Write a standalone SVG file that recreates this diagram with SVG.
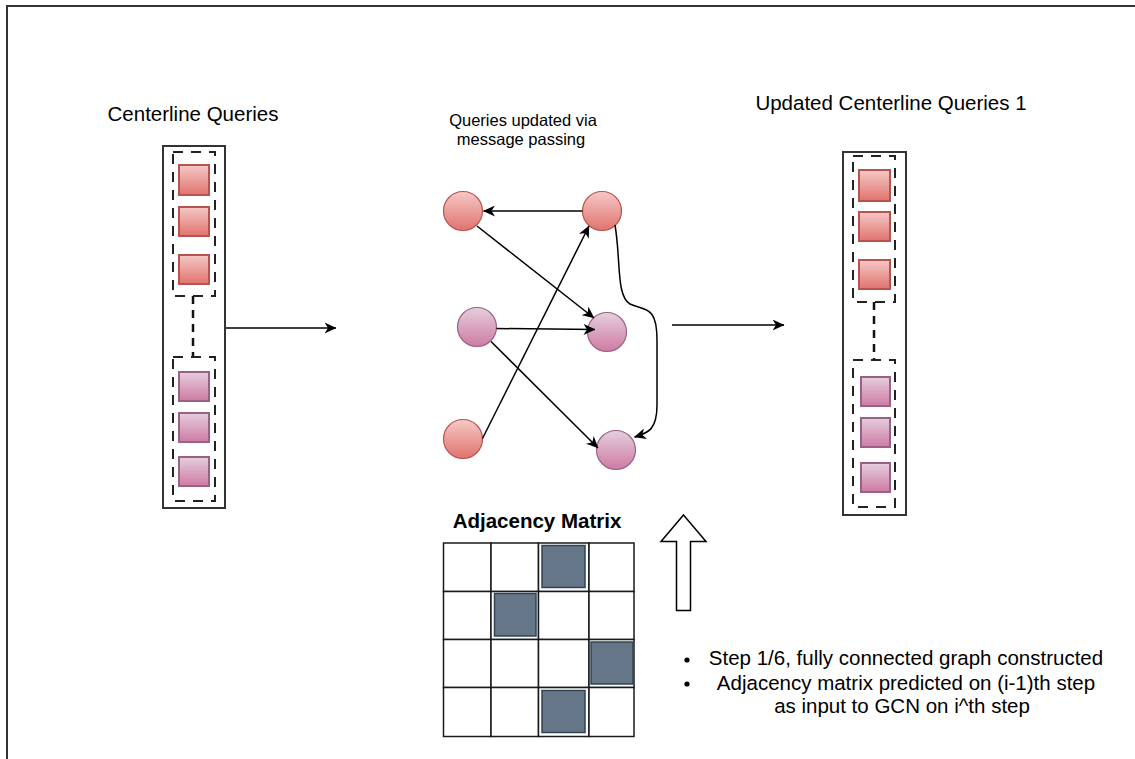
<svg xmlns="http://www.w3.org/2000/svg" width="1135" height="759" viewBox="0 0 1135 759">
  <style>
    text { font-family: "Liberation Sans", Arial, sans-serif; fill: #000; }
    .title { font-size: 20.5px; text-anchor: middle; }
    .small { font-size: 16.5px; text-anchor: middle; }
    .bold { font-size: 20.5px; font-weight: bold; text-anchor: middle; }
    .frame { fill: none; stroke: #333; stroke-width: 2; }
    .column { fill: #fff; stroke: #333; stroke-width: 2; }
    .group { fill: none; stroke: #222; stroke-width: 2; stroke-dasharray: 10 8; }
    .link { fill: none; stroke: #111; stroke-width: 2.5; stroke-dasharray: 8 6; }
    .redsq { fill: url(#redGrad); stroke: #b85450; stroke-width: 2; }
    .pursq { fill: url(#purGrad); stroke: #996185; stroke-width: 2; }
    .rednode { fill: url(#redGrad); stroke: #b85450; stroke-width: 1.2; }
    .purnode { fill: url(#purGrad); stroke: #996185; stroke-width: 1.2; }
    .edge { fill: none; stroke: #000; stroke-width: 1.5; marker-end: url(#arrow); }
    .cell { fill: #fff; stroke: #1a1a1a; stroke-width: 1.5; }
    .on { fill: #647687; stroke: #314354; stroke-width: 1.5; }
    .block { fill: #fff; stroke: #000; stroke-width: 1.5; }
  </style>
  <defs>
    <linearGradient id="redGrad" x1="0" y1="0" x2="0" y2="1">
      <stop offset="0" stop-color="#f5c9c7"/>
      <stop offset="1" stop-color="#e0736d"/>
    </linearGradient>
    <linearGradient id="purGrad" x1="0" y1="0" x2="0" y2="1">
      <stop offset="0" stop-color="#e4cfdd"/>
      <stop offset="1" stop-color="#cf7aa3"/>
    </linearGradient>
    <marker id="arrow" viewBox="0 0 12 11" markerWidth="12" markerHeight="11" refX="11.5" refY="5.5" orient="auto" markerUnits="userSpaceOnUse">
      <path d="M0,0 L12,5.5 L0,11 L3.5,5.5 Z" fill="#000"/>
    </marker>
  </defs>

  <rect width="1135" height="759" fill="#fff"/>

  <!-- page frame: top and left edges -->
  <path class="frame" d="M1135,6 L7,6 L7,759"/>

  <!-- input column -->
  <g id="centerline-queries">
    <text class="title" x="193" y="121">Centerline Queries</text>
    <rect class="column" x="163" y="146" width="62" height="362"/>
    <rect class="group" x="173" y="152" width="42" height="144"/>
    <rect class="redsq" x="179" y="165" width="30" height="30"/>
    <rect class="redsq" x="179" y="207" width="30" height="29"/>
    <rect class="redsq" x="179" y="255" width="30" height="29"/>
    <line class="link" x1="193" y1="296" x2="193" y2="356"/>
    <rect class="group" x="173" y="357" width="42" height="144"/>
    <rect class="pursq" x="179" y="372" width="30" height="29"/>
    <rect class="pursq" x="179" y="413" width="30" height="29"/>
    <rect class="pursq" x="179" y="457" width="30" height="29"/>
  </g>

  <!-- output column -->
  <g id="updated-queries">
    <text class="title" x="891" y="110">Updated Centerline Queries 1</text>
    <rect class="column" x="843" y="152" width="63" height="363"/>
    <rect class="group" x="853" y="156" width="42" height="146"/>
    <rect class="redsq" x="859" y="170" width="31" height="31"/>
    <rect class="redsq" x="859" y="212" width="31" height="29"/>
    <rect class="redsq" x="859" y="260" width="31" height="29"/>
    <line class="link" x1="874" y1="302" x2="874" y2="359"/>
    <rect class="group" x="853" y="360" width="42" height="147"/>
    <rect class="pursq" x="861" y="377" width="29" height="29"/>
    <rect class="pursq" x="861" y="418" width="29" height="29"/>
    <rect class="pursq" x="861" y="463" width="29" height="29"/>
  </g>

  <!-- message passing graph -->
  <g id="graph-label">
    <text class="small" x="523" y="126">Queries updated via</text>
    <text class="small" x="521" y="145">message passing</text>
  </g>
  <g id="node-a"><circle class="rednode" cx="463" cy="211" r="19.5"/></g>
  <g id="node-b"><circle class="rednode" cx="602" cy="211" r="19.5"/></g>
  <g id="node-c"><circle class="purnode" cx="477" cy="327" r="19.5"/></g>
  <g id="node-d"><circle class="purnode" cx="607" cy="332" r="19.5"/></g>
  <g id="node-e"><circle class="rednode" cx="463" cy="439" r="19.5"/></g>
  <g id="node-f"><circle class="purnode" cx="616" cy="450" r="19.5"/></g>

  <!-- adjacency matrix -->
  <g id="adjacency-matrix">
    <text class="bold" x="537" y="528">Adjacency Matrix</text>
    <g>
      <rect class="cell" x="443.5" y="543" width="47.5" height="48.5"/>
      <rect class="cell" x="491" y="543" width="47.5" height="48.5"/>
      <rect class="cell" x="538.5" y="543" width="50.5" height="48.5"/>
      <rect class="cell" x="589" y="543" width="45" height="48.5"/>
      <rect class="cell" x="443.5" y="591.5" width="47.5" height="48"/>
      <rect class="cell" x="491" y="591.5" width="47.5" height="48"/>
      <rect class="cell" x="538.5" y="591.5" width="50.5" height="48"/>
      <rect class="cell" x="589" y="591.5" width="45" height="48"/>
      <rect class="cell" x="443.5" y="639.5" width="47.5" height="48"/>
      <rect class="cell" x="491" y="639.5" width="47.5" height="48"/>
      <rect class="cell" x="538.5" y="639.5" width="50.5" height="48"/>
      <rect class="cell" x="589" y="639.5" width="45" height="48"/>
      <rect class="cell" x="443.5" y="687.5" width="47.5" height="49"/>
      <rect class="cell" x="491" y="687.5" width="47.5" height="49"/>
      <rect class="cell" x="538.5" y="687.5" width="50.5" height="49"/>
      <rect class="cell" x="589" y="687.5" width="45" height="49"/>
    </g>
    <rect class="on" x="542" y="545.5" width="43" height="42"/>
    <rect class="on" x="494.5" y="593.5" width="41.5" height="42.5"/>
    <rect class="on" x="591" y="642" width="42" height="42"/>
    <rect class="on" x="542" y="690.5" width="43" height="42"/>
  </g>

  <!-- block arrow feeding the matrix into the graph -->
  <g id="feed-arrow">
    <path class="block" d="M683.5,515 L706,541.5 L690.5,541.5 L690.5,610.5 L676.5,610.5 L676.5,541.5 L661,541.5 Z"/>
  </g>

  <!-- notes -->
  <g id="notes">
    <circle cx="687" cy="660" r="2.6" fill="#000"/>
    <circle cx="687" cy="684" r="2.6" fill="#000"/>
    <text class="title" x="906" y="665">Step 1/6, fully connected graph constructed</text>
    <text class="title" x="906" y="690">Adjacency matrix predicted on (i-1)th step</text>
    <text class="title" x="902" y="713">as input to GCN on i^th step</text>
  </g>

  <!-- connectors -->
  <g id="connectors">
    <path class="edge" d="M226,328 L336,328"/>
    <path class="edge" d="M672,325 L784,325"/>
    <path class="edge" d="M582.5,211 L483.5,211"/>
    <path class="edge" d="M477,226 L594,318"/>
    <path class="edge" d="M496.5,328.5 L595,329.5"/>
    <path class="edge" d="M491,341.5 L598,448"/>
    <path class="edge" d="M482.5,438.5 L589,226"/>
    <path class="edge" d="M615,225 C621,260 616,296 630,304 C645,311 657,305 657,340 L657,405 C657,430 648,433 634.5,437"/>
  </g>
</svg>
